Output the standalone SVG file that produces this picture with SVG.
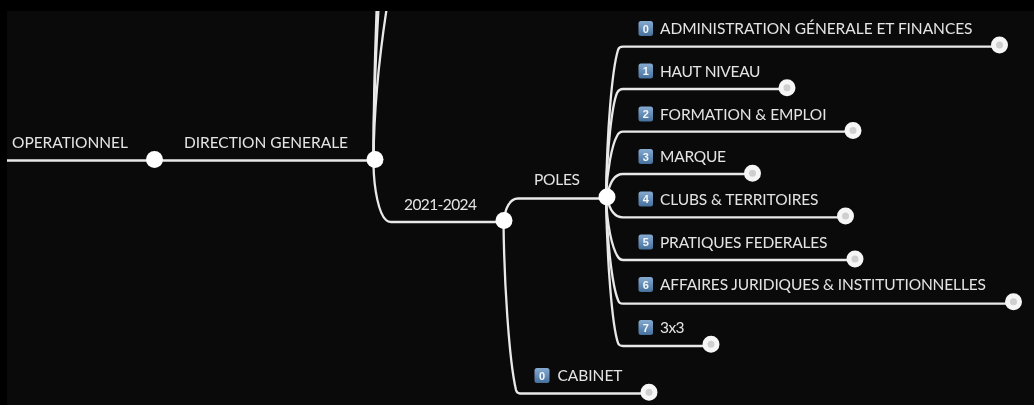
<svg xmlns="http://www.w3.org/2000/svg" width="1034" height="405" viewBox="0 0 1034 405">
<style>
.l{fill:none;stroke:#e9e9e9;stroke-width:2.3}
.t{font-family:Lato,"Liberation Sans",sans-serif;font-size:15.5px;fill:#e4e4e4}
.n{fill:#fff}
.e{fill:#cfcfcf;stroke:#f6f6f6;stroke-width:5}
.b{fill:url(#bg)}
.d{font-family:"Liberation Sans",sans-serif;font-size:11px;font-weight:bold;fill:#f4f8fc;text-anchor:middle}
.s{filter:url(#soft)}
</style>
<defs>
<linearGradient id="bg" x1="0" y1="0" x2="0" y2="1"><stop offset="0" stop-color="#86abd2"/><stop offset="1" stop-color="#46719d"/></linearGradient>
<clipPath id="fr"><rect x="7" y="11" width="1027" height="394"/></clipPath>
<filter id="soft" x="-2%" y="-2%" width="104%" height="104%"><feGaussianBlur stdDeviation="0.45"/></filter>
</defs>
<rect width="1034" height="405" fill="#000"/>
<rect x="7" y="11" width="1027" height="394" fill="#0a0a0a"/>
<g class="s">
<g id="connectors" clip-path="url(#fr)">
<path class="l" d="M7 160.500H375"/>
<path class="l" d="M373.500 160C373.500 100 376 50 379 0"/>
<path class="l" d="M373.500 160C373.500 100 375 50 377 0"/>
<path class="l" d="M373.500 160C374 100 380 50 388 0"/>
<path class="l" d="M373.500 165C374 190 379 214 386 220Q388 222 391 222H504"/>
<path class="l" d="M504 221C505 208 510 198.500 518 198.500H607"/>
<path class="l" d="M503.500 221C504 280 509 360 516 390Q517 393.500 520 393.500H649"/>
<path class="l" d="M606 197C607 130 612 70 618 50Q619 46.700 623 46.700H1000"/>
<path class="l" d="M606 197C607 150 612 105 617 93Q619 89 623 89H787"/>
<path class="l" d="M606 197C607 170 612 145 617 136Q619 131.700 623 131.700H853"/>
<path class="l" d="M607 197C609 185 613 174 623 174H753"/>
<path class="l" d="M607 197C609 208 613 217.300 623 217.300H845"/>
<path class="l" d="M606 197C607 225 612 248 618 257Q620 260 623 260H855"/>
<path class="l" d="M606 197C607 240 612 285 618 300Q619 303.700 623 303.700H1013"/>
<path class="l" d="M606 197C607 260 612 325 618 343Q619 346 623 346H711"/>
</g>
<g id="operationnel"><text class="t" x="12" y="148" textLength="116">OPERATIONNEL</text><circle class="n" cx="154.500" cy="159.500" r="8.500"/></g>
<g id="direction"><text class="t" x="184" y="148" textLength="164">DIRECTION GENERALE</text><circle class="n" cx="375" cy="159.500" r="8.500"/></g>
<g id="periode"><text class="t" x="404" y="210" textLength="73">2021-2024</text><circle class="n" cx="504" cy="220.500" r="8.500"/></g>
<g id="poles"><text class="t" x="534" y="185" textLength="46">POLES</text><circle class="n" cx="607" cy="197" r="8.500"/></g>
<g id="p0"><rect class="b" x="638.500" y="21" width="14.500" height="15" rx="2.500"/><text class="d" x="645.700" y="32.500">0</text><text class="t" x="660" y="34" textLength="312.500">ADMINISTRATION GÉNERALE ET FINANCES</text><circle class="e" cx="999.500" cy="45" r="6"/></g>
<g id="p1"><rect class="b" x="638.500" y="63.500" width="14.500" height="15" rx="2.500"/><text class="d" x="645.700" y="75">1</text><text class="t" x="660" y="76.500" textLength="100.500">HAUT NIVEAU</text><circle class="e" cx="787" cy="87.700" r="6"/></g>
<g id="p2"><rect class="b" x="638.500" y="106.500" width="14.500" height="15" rx="2.500"/><text class="d" x="645.700" y="118">2</text><text class="t" x="660" y="119.500" textLength="166.500">FORMATION &amp; EMPLOI</text><circle class="e" cx="853" cy="130.500" r="6"/></g>
<g id="p3"><rect class="b" x="638.500" y="149" width="14.500" height="15" rx="2.500"/><text class="d" x="645.700" y="160.500">3</text><text class="t" x="660" y="162" textLength="66">MARQUE</text><circle class="e" cx="752.500" cy="173.300" r="6"/></g>
<g id="p4"><rect class="b" x="638.500" y="191.500" width="14.500" height="15" rx="2.500"/><text class="d" x="645.700" y="203">4</text><text class="t" x="660" y="204.500" textLength="158.500">CLUBS &amp; TERRITOIRES</text><circle class="e" cx="845.500" cy="216" r="6"/></g>
<g id="p5"><rect class="b" x="638.500" y="234.500" width="14.500" height="15" rx="2.500"/><text class="d" x="645.700" y="246">5</text><text class="t" x="660" y="247.500" textLength="167.500">PRATIQUES FEDERALES</text><circle class="e" cx="855" cy="259" r="6"/></g>
<g id="p6"><rect class="b" x="638.500" y="277" width="14.500" height="15" rx="2.500"/><text class="d" x="645.700" y="288.500">6</text><text class="t" x="660" y="290" textLength="326">AFFAIRES JURIDIQUES &amp; INSTITUTIONNELLES</text><circle class="e" cx="1013.500" cy="301.700" r="6"/></g>
<g id="p7"><rect class="b" x="638.500" y="320" width="14.500" height="15" rx="2.500"/><text class="d" x="645.700" y="331.500">7</text><text class="t" x="660" y="333" textLength="24.500">3x3</text><circle class="e" cx="711" cy="344.300" r="6"/></g>
<g id="cabinet"><rect class="b" x="534.500" y="368" width="15" height="15" rx="2.500"/><text class="d" x="542" y="379.500">0</text><text class="t" x="557.500" y="381" textLength="65">CABINET</text><circle class="e" cx="649" cy="392.300" r="6"/></g>
</g>
</svg>
